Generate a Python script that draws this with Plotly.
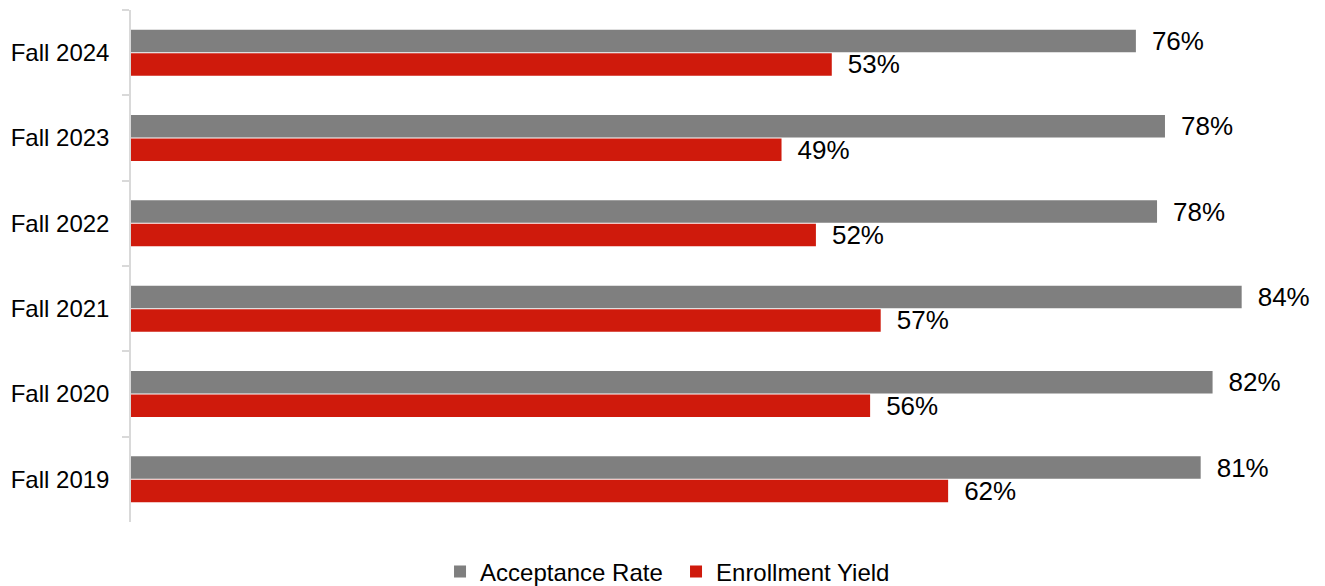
import plotly.graph_objects as go

categories = ["Fall 2024", "Fall 2023", "Fall 2022", "Fall 2021", "Fall 2020", "Fall 2019"]
acceptance_rate = [0.760, 0.782, 0.776, 0.840, 0.818, 0.809]
enrollment_yield = [0.530, 0.492, 0.518, 0.567, 0.559, 0.618]
series_names = ["Acceptance Rate", "Enrollment Yield"]

GRAY = "#7F7F7F"
RED = "#CF1A0C"
FONT = "Liberation Sans, Arial, sans-serif"
PAD = "\u2002"

fig = go.Figure()
for name, vals, col in [(series_names[0], acceptance_rate, GRAY),
                        (series_names[1], enrollment_yield, RED)]:
    fig.add_trace(go.Bar(
        y=categories, x=vals, name=name, orientation="h",
        marker=dict(color=col, line=dict(width=0)),
        text=[PAD + f"{round(v*100):.0f}%" for v in vals],
        textposition="outside", cliponaxis=False, constraintext="none",
        textfont=dict(family=FONT, size=26, color="#000000"),
        hoverinfo="skip",
    ))

fig.update_layout(
    width=1317, height=578,
    margin=dict(l=123, r=4, t=2, b=64, autoexpand=False),
    paper_bgcolor="white", plot_bgcolor="white",
    barmode="group", bargap=0.45, bargroupgap=0.04,
    font=dict(family=FONT, size=24, color="#000000"),
    showlegend=True,
    legend=dict(orientation="h", x=0.458, xanchor="center",
                yref="container", y=0.0242, yanchor="middle",
                font=dict(family=FONT, size=24, color="#000000"), traceorder="normal",
                entrywidth=191),
    xaxis=dict(range=[0, 0.9], showgrid=False, zeroline=False, showline=False,
               showticklabels=False, ticks="", automargin=False),
    yaxis=dict(autorange="reversed", showgrid=False, zeroline=False, automargin=False,
               showline=True, linecolor="#D9D9D9", linewidth=1.5,
               ticks="outside", tickson="boundaries", ticklen=7, tickcolor="#D9D9D9",
               tickwidth=1.5, ticklabelstandoff=15,
               tickfont=dict(family=FONT, size=24, color="#000000")),
)

fig.write_html("out.html")
